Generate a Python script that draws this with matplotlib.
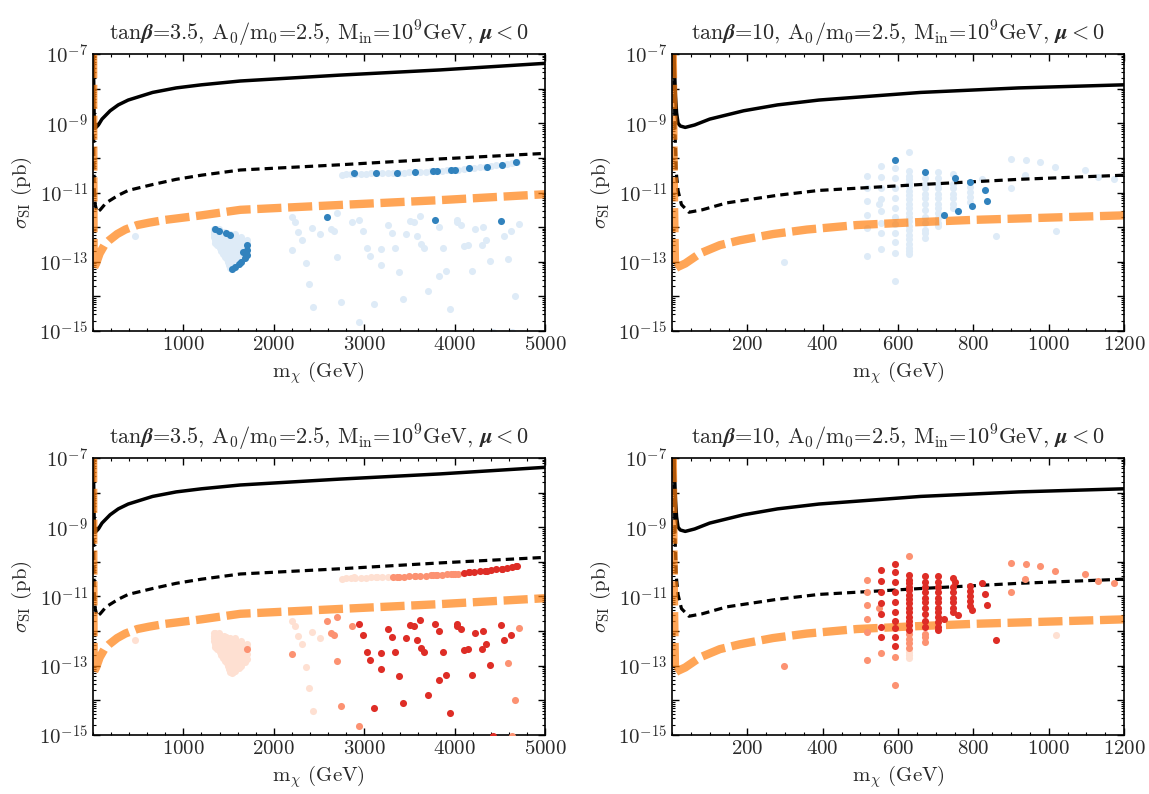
import numpy as np
import matplotlib
matplotlib.use("Agg")
import matplotlib.pyplot as plt
from matplotlib.ticker import FixedLocator, MultipleLocator, LogLocator, FuncFormatter, NullFormatter

plt.rcParams['font.family'] = 'serif'
plt.rcParams['font.serif'] = ['cmr10', 'DejaVu Serif']
plt.rcParams['mathtext.fontset'] = 'cm'
plt.rcParams['axes.formatter.use_mathtext'] = True
plt.rcParams['axes.unicode_minus'] = False
plt.rcParams['text.color'] = '#2a2a2a'
plt.rcParams['axes.labelcolor'] = '#2a2a2a'
plt.rcParams['xtick.labelcolor'] = '#2a2a2a'
plt.rcParams['ytick.labelcolor'] = '#2a2a2a'

# ---- limit curves: mass (GeV), log10 sigma_SI (pb)
solid_m = [5, 7, 9, 12, 16, 22, 35, 60, 100, 190, 280, 390, 660, 920, 1200, 1630, 2730, 3840, 5000]
solid_log = [-7.0, -7.6, -8.2, -8.7, -9.0, -9.08, -9.12, -9.05, -8.88, -8.64, -8.47, -8.33, -8.11, -7.98,
             -7.89, -7.78, -7.61, -7.46, -7.27]

dashed_m = [4.5, 6, 8, 11, 16, 25, 45, 80, 145, 280, 390, 660, 920, 1200, 1630, 2730, 3840, 5000]
dashed_log = [-7.0, -8.0, -9.3, -10.4, -10.95, -11.35, -11.57, -11.5, -11.3, -11.08, -10.94, -10.77,
              -10.62, -10.5, -10.35, -10.2, -10.03, -9.87]

floor_m = [2, 3, 4, 5.5, 8, 15, 35, 74, 127, 180, 268, 358, 490, 623, 800, 924, 1200, 1630, 2730, 3840, 5000]
floor_log = [-7.0, -8.5, -10.0, -11.5, -13.2, -13.15, -13.05, -12.76, -12.52, -12.38, -12.2, -12.07,
             -11.94, -11.87, -11.79, -11.75, -11.66, -11.5, -11.36, -11.22, -11.05]

# ---- tan(beta)=3.5 points
# thin strip near 10^-10
band_m = [2750, 2800, 2850, 2900, 2960, 3020, 3080, 3140, 3200, 3260, 3320, 3380, 3440, 3500, 3560, 3620,
          3680, 3740, 3800, 3860, 3920, 3980, 4040, 4100, 4160, 4220, 4280, 4340, 4400, 4460, 4520, 4580,
          4640, 4690,
          2890, 3127, 3366, 3561, 3757, 3801, 3959, 4004, 4159, 4358, 4520, 4678]
band_log = [-10.49, -10.48, -10.47, -10.46, -10.46, -10.46, -10.45, -10.45, -10.45, -10.44, -10.44, -10.43,
            -10.43, -10.42, -10.42, -10.41, -10.40, -10.39, -10.38, -10.37, -10.36, -10.35, -10.34, -10.32,
            -10.30, -10.29, -10.27, -10.26, -10.24, -10.22, -10.20, -10.18, -10.15, -10.12,
            -10.45, -10.45, -10.43, -10.42, -10.37, -10.37, -10.35, -10.35, -10.30, -10.26, -10.21, -10.13]
band_top = [0] * 34 + [1] * 12
band_bot = [0] * 10 + [1] * 13 + [2] * 11 + [0, 0, 1, 1, 1, 1, 1, 1, 2, 2, 2, 2]

# triangular patch around 1.5 TeV
blob_m = [1335, 1395,
          1335, 1395, 1455,
          1335, 1395, 1455, 1515, 1570,
          1340, 1400, 1460, 1520, 1580, 1640,
          1345, 1405, 1465, 1525, 1585, 1645, 1700,
          1355, 1415, 1475, 1535, 1595, 1655, 1705,
          1375, 1435, 1495, 1555, 1615, 1675,
          1400, 1460, 1520, 1580, 1640, 1695,
          1420, 1480, 1540, 1600, 1660,
          1440, 1500, 1560, 1620, 1680,
          1460, 1520, 1580, 1640,
          1480, 1540, 1600, 1650,
          1495, 1555, 1610,
          1505, 1560,
          1515, 1550,
          1349, 1397, 1471, 1515, 1700, 1700, 1656, 1700, 1681, 1637, 1618, 1571, 1534]
blob_log = [-12.05] * 2 + [-12.13] * 3 + [-12.21] * 5 + [-12.29] * 6 + [-12.37] * 7 + [-12.45] * 7 + \
           [-12.53] * 6 + [-12.61] * 6 + [-12.69] * 5 + [-12.77] * 5 + [-12.85] * 4 + [-12.93] * 4 + \
           [-13.01] * 3 + [-13.09] * 2 + [-13.17] * 2 + \
           [-12.06, -12.12, -12.17, -12.22, -12.52, -12.66, -12.72, -12.81, -12.90, -13.00, -13.07, -13.16, -13.22]
blob_top = [0] * 67 + [1] * 13
blob_bot = [0] * 67 + [0, 0, 0, 0, 1, 0, 0, 0, 0, 0, 0, 0, 0]

# scattered points
scat_m = [460, 2197, 2234, 2585, 2702, 2271, 2312, 2197, 2425, 2507,
          2629, 2669, 2352, 2392, 2430, 2695, 2746, 2868, 2946, 2946,
          2987, 3027, 3067, 3105, 3182, 3182, 3266, 3303, 3344, 3384,
          3425, 3465, 3509, 3546, 3587, 3620, 3624, 3664, 3701, 3786,
          3823, 3823, 3867, 3908, 3948, 4022, 4030, 4070, 4107, 4148,
          4188, 4225, 4310, 4306, 4350, 4391, 4428, 4509, 4551, 4590,
          4627, 4631, 4667, 4711]
scat_log = [-12.26, -11.72, -11.86, -11.71, -11.60, -12.15, -12.37, -12.67, -12.03, -12.21,
            -12.04, -12.10, -13.03, -13.64, -14.30, -12.86, -14.17, -11.85, -11.78, -14.73,
            -12.11, -12.59, -12.82, -14.21, -12.63, -13.10, -11.93, -12.17, -12.59, -13.29,
            -14.07, -12.19, -11.82, -11.85, -12.25, -11.68, -12.48, -12.60, -13.84, -11.78,
            -12.00, -13.42, -12.59, -13.26, -14.37, -11.80, -11.86, -11.94, -12.55, -12.51,
            -13.26, -12.04, -12.00, -12.51, -12.38, -12.97, -15.02, -11.82, -12.25, -12.92,
            -12.12, -15.02, -13.99, -11.90]
scat_top = [0, 0, 0, 1, 0, 0, 0, 0, 0, 0,
            0, 0, 0, 0, 0, 0, 0, 0, 0, 0,
            0, 0, 0, 0, 0, 0, 0, 0, 0, 0,
            0, 0, 0, 0, 0, 0, 0, 0, 0, 1,
            0, 0, 0, 0, 0, 0, 0, 0, 0, 0,
            0, 0, 0, 0, 0, 0, 0, 1, 0, 0,
            0, 0, 0, 0]
scat_bot = [0, 0, 0, 1, 1, 0, 0, 1, 0, 0,
            1, 1, 0, 0, 0, 1, 1, 1, 2, 1,
            2, 2, 2, 2, 2, 2, 2, 2, 2, 2,
            2, 2, 2, 2, 2, 2, 2, 2, 2, 2,
            2, 2, 2, 2, 2, 2, 2, 2, 2, 2,
            2, 2, 2, 2, 2, 2, 2, 2, 2, 1,
            2, 1, 1, 1]

# ---- tan(beta)=10 points
right_m = [517] * 6 + \
          [554] * 8 + [550] + \
          [592] * 12 + \
          [630] * 22 + \
          [672] * 13 + \
          [707] * 12 + [722] + \
          [747] * 7 + [751, 760] + \
          [791] * 5 + [796] + \
          [822, 831, 835] + \
          [298, 860, 900, 899, 939, 938, 977, 1017, 1019, 1095, 1132, 1172]
right_log = [-10.52, -10.88, -11.25, -11.65, -12.03, -12.83] + \
            [-10.23, -10.54, -10.88, -11.2, -11.52, -11.88, -12.18, -12.64, -11.34] + \
            [-10.07, -10.30, -10.59, -10.88, -11.17, -11.44, -11.70, -11.92, -12.18, -12.44, -12.74, -13.56] + \
            [-9.82, -10.37, -10.52, -10.62, -10.72, -10.82, -10.95, -11.08, -11.2, -11.33, -11.46, -11.58,
             -11.7, -11.83, -11.96, -12.09, -12.22, -12.35, -12.48, -12.6, -12.7, -12.78] + \
            [-10.41, -10.59, -10.74, -10.88, -11.03, -11.17, -11.32, -11.51, -11.70, -11.89, -12.09, -12.18, -12.31] + \
            [-10.42, -10.59, -10.74, -10.88, -11.03, -11.17, -11.32, -11.46, -11.60, -11.75, -11.89, -11.97, -11.66] + \
            [-10.47, -10.74, -10.88, -11.03, -11.17, -11.32, -11.46, -10.59, -11.53] + \
            [-10.71, -10.83, -10.98, -11.12, -11.27, -11.39] + \
            [-10.61, -10.92, -11.25] + \
            [-13.02, -12.26, -10.03, -10.87, -10.06, -10.50, -10.13, -10.27, -12.12, -10.35, -10.55, -10.62]
right_top = [0] * 6 + [0] * 9 + [1] + [0] * 11 + [0] * 22 + [1] + [0] * 12 + [0] * 12 + [1] + \
            [0] * 7 + [1, 1] + [1, 0, 0, 0, 0, 1] + [0, 1, 1] + [0] * 12
right_bot = [1] * 6 + [2] * 7 + [1, 1] + [2] * 10 + [1, 1] + [1] + [2] * 14 + [1] * 4 + [0] * 3 + \
            [2] * 10 + [1] * 3 + [2] * 13 + [2] * 9 + [2] * 6 + [2] * 3 + \
            [1, 2, 1, 1, 1, 1, 1, 1, 0, 1, 1, 1]

blues = ['#deebf7', '#3182bd']
reds = ['#fee0d2', '#fc9272', '#de2d26']

title_35 = r'tan$\boldsymbol{\beta}$=3.5, A$_0$/m$_0$=2.5, M$_{\rm in}$=10$^9$GeV, $\boldsymbol{\mu}<0$'
title_10 = r'tan$\boldsymbol{\beta}$=10, A$_0$/m$_0$=2.5, M$_{\rm in}$=10$^9$GeV, $\boldsymbol{\mu}<0$'

left_m = band_m + blob_m + scat_m
left_log = band_log + blob_log + scat_log
left_top = band_top + blob_top + scat_top
left_bot = band_bot + blob_bot + scat_bot


def ylab(v, pos):
    e = int(round(np.log10(v)))
    return r'$10^{%d}$' % e if e % 2 else ''


def panel(ax, m, lg, cls, colors, xmax, xmajor, xminor, title):
    m = np.array(m, dtype=float)
    s = 10.0 ** np.array(lg)
    cls = np.array(cls)
    k = cls == 0
    ax.scatter(m[k], s[k], s=26, c=colors[0], lw=0, zorder=1)
    ax.plot(solid_m, 10.0 ** np.array(solid_log), color='k', lw=2.5, zorder=2)
    ax.plot(dashed_m, 10.0 ** np.array(dashed_log), color='k', lw=2.3, ls=(0, (2.6, 1.6)), zorder=2)
    ax.plot(floor_m, 10.0 ** np.array(floor_log), color='C1', alpha=0.7, lw=6, ls=(0, (2.9, 0.8)), zorder=2)
    for c in range(1, len(colors)):
        k = cls == c
        ax.scatter(m[k], s[k], s=26, c=colors[c], lw=0, zorder=3)

    ax.set_yscale('log')
    ax.set_xlim(0, xmax)
    ax.set_ylim(1e-15, 1e-7)
    ax.xaxis.set_major_locator(FixedLocator(xmajor))
    ax.xaxis.set_minor_locator(MultipleLocator(xminor))
    ax.yaxis.set_major_locator(FixedLocator([10.0 ** e for e in range(-15, -6)]))
    ax.yaxis.set_major_formatter(FuncFormatter(ylab))
    ax.yaxis.set_minor_locator(LogLocator(base=10, subs=np.arange(2, 10), numticks=100))
    ax.yaxis.set_minor_formatter(NullFormatter())
    ax.tick_params(which='both', direction='in', top=True, right=True, labelsize=15)
    ax.tick_params(which='major', length=5, width=1)
    ax.tick_params(which='minor', length=2.5, width=0.8)
    for sp in ax.spines.values():
        sp.set_linewidth(1.2)
    ax.set_xlabel(r'm$_\chi$ (GeV)', fontsize=15)
    ax.set_ylabel(r'$\sigma_{\rm SI}$ (pb)', fontsize=15)
    ax.set_title(title, fontsize=16, pad=10)


fig = plt.figure(figsize=(11.49, 7.94), dpi=100)
x0, x1, w = 0.0809, 0.5849, 0.3934
y0, y1, h = 0.5831, 0.0743, 0.3489
ax1 = fig.add_axes([x0, y0, w, h])
ax2 = fig.add_axes([x1, y0, w, h])
ax3 = fig.add_axes([x0, y1, w, h])
ax4 = fig.add_axes([x1, y1, w, h])

panel(ax1, left_m, left_log, left_top, blues, 5000, [1000, 2000, 3000, 4000, 5000], 200, title_35)
panel(ax2, right_m, right_log, right_top, blues, 1200, [200, 400, 600, 800, 1000, 1200], 50, title_10)
panel(ax3, left_m, left_log, left_bot, reds, 5000, [1000, 2000, 3000, 4000, 5000], 200, title_35)
panel(ax4, right_m, right_log, right_bot, reds, 1200, [200, 400, 600, 800, 1000, 1200], 50, title_10)

fig.savefig('out.png', dpi=100)
